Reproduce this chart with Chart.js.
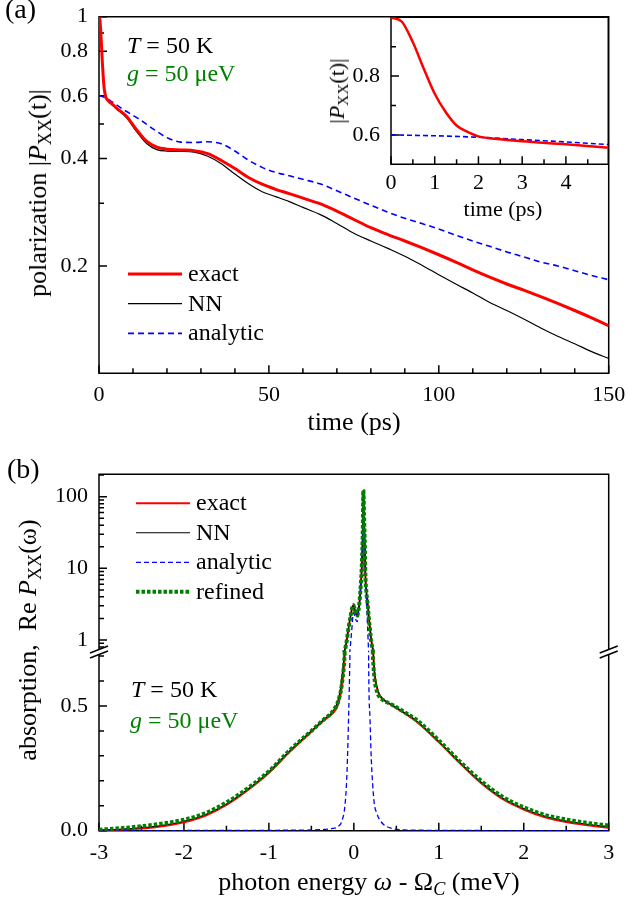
<!DOCTYPE html>
<html>
<head>
<meta charset="utf-8">
<script src="https://cdn.jsdelivr.net/npm/chart.js@4.4.1/dist/chart.umd.min.js"></script>
<style>
  html, body { margin: 0; padding: 0; background: #fff; }
  body { position: relative; width: 628px; height: 906px; overflow: hidden; font-family: "Liberation Serif", "Times New Roman", Times, Tinos, "DejaVu Serif", serif; }
  canvas { position: absolute; }
  .t { position: absolute; white-space: nowrap; line-height: 1; color: #000; }
  .cx { transform: translateX(-50%); }
  .rot { transform: translate(-50%, -50%) rotate(-90deg); }
  .g { color: #008000; }
  sub { font-size: 70%; vertical-align: -0.28em; line-height: 0; }
</style>
</head>
<body>
<canvas id="ca" width="628" height="440" style="left:0;top:0"></canvas>
<canvas id="ci" width="328" height="230" style="left:300px;top:0"></canvas>
<canvas id="cb1" width="628" height="212" style="left:0;top:440px"></canvas>
<canvas id="cb2" width="628" height="276" style="left:0;top:630px"></canvas>

<div class="t" style="left:5px;top:-5px;font-size:28px">(a)</div>
<div class="t" style="left:127px;top:33px;font-size:24px"><i>T</i> = 50 K</div>
<div class="t g" style="left:127px;top:61px;font-size:24px"><i>g</i> = 50 μeV</div>
<div class="t rot" style="left:38px;top:193px;font-size:26px">polarization |<i>P</i><sub>XX</sub>(t)|</div>
<div class="t cx" style="left:354px;top:409px;font-size:26px">time (ps)</div>
<div class="t rot" style="left:337px;top:91px;font-size:22px">|<i>P</i><sub>XX</sub>(t)|</div>
<div class="t cx" style="left:503px;top:198px;font-size:22px">time (ps)</div>

<div class="t" style="left:7px;top:455px;font-size:28px">(b)</div>
<div class="t" style="left:131px;top:677px;font-size:24px"><i>T</i> = 50 K</div>
<div class="t g" style="left:130px;top:708px;font-size:24px"><i>g</i> = 50 μeV</div>
<div class="t rot" style="left:28px;top:640px;font-size:26px">absorption,&nbsp; Re <i>P</i><sub>XX</sub>(ω)</div>
<div class="t cx" style="left:369px;top:869px;font-size:26px">photon energy <i>ω</i> - Ω<sub><i>C</i></sub> (meV)</div>

<script>
// (a) polarization vs time
const timeNum = [0, 0.25, 0.5, 0.75, 1, 1.25, 1.5, 1.75, 2, 2.5, 3, 4, 5, 8, 11, 14, 17, 20, 24, 28, 32, 36, 40, 44, 48, 52, 56, 60, 65, 70, 75, 80, 85, 90, 95, 100, 105, 110, 115, 120, 125, 130, 135, 140, 145, 150];
const exactPol = [1.0, 0.985, 0.915, 0.825, 0.74, 0.678, 0.632, 0.61, 0.595, 0.585, 0.578, 0.568, 0.556, 0.527, 0.483, 0.448, 0.431, 0.425, 0.423, 0.421, 0.413, 0.395, 0.375, 0.354, 0.339, 0.328, 0.319, 0.31, 0.299, 0.285, 0.27, 0.256, 0.245, 0.235, 0.225, 0.215, 0.205, 0.195, 0.186, 0.178, 0.171, 0.164, 0.157, 0.15, 0.143, 0.136];
const nnPol = [1.0, 0.985, 0.915, 0.825, 0.74, 0.678, 0.63, 0.607, 0.592, 0.582, 0.575, 0.565, 0.553, 0.522, 0.477, 0.441, 0.424, 0.42, 0.419, 0.417, 0.406, 0.387, 0.362, 0.34, 0.323, 0.313, 0.303, 0.292, 0.279, 0.263, 0.247, 0.235, 0.224, 0.213, 0.201, 0.189, 0.178, 0.168, 0.158, 0.15, 0.142, 0.134, 0.127, 0.121, 0.115, 0.11];
const timeAna = [0, 1, 2, 3, 4, 5, 8, 12, 16, 20, 24, 28, 32, 36, 40, 44, 48, 52, 56, 60, 65, 70, 75, 80, 85, 90, 95, 100, 105, 110, 115, 120, 125, 130, 135, 140, 145, 150];
const analyticPol = [0.6, 0.597, 0.592, 0.584, 0.576, 0.567, 0.543, 0.515, 0.484, 0.458, 0.445, 0.444, 0.446, 0.44, 0.42, 0.396, 0.378, 0.366, 0.358, 0.35, 0.34, 0.325, 0.31, 0.296, 0.283, 0.272, 0.263, 0.254, 0.244, 0.235, 0.227, 0.219, 0.212, 0.205, 0.2, 0.194, 0.188, 0.183];
const timeTicks = [0, 10, 20, 30, 40, 50, 60, 70, 80, 90, 100, 110, 120, 130, 140, 150];
const timeLabels = [0, 50, 100, 150];
const polTicks = [0.2, 0.3, 0.4, 0.5, 0.6, 0.8, 0.9, 1];
const polLabels = [0.2, 0.4, 0.6, 0.8, 1];
// inset
const insetTimeTicks = [0, 0.5, 1, 1.5, 2, 2.5, 3, 3.5, 4, 4.5];
const insetTimeLabels = [0, 1, 2, 3, 4];
const insetPolTicks = [0.6, 0.7, 0.8, 0.9];
const insetPolLabels = [0.6, 0.8];

// (b) absorption spectrum
const omega = [-3, -2.75, -2.5, -2.25, -2, -1.75, -1.5, -1.25, -1, -0.75, -0.5, -0.35, -0.25, -0.18, -0.14, -0.105, -0.085, -0.066, -0.04, -0.02, -0.007, 0.01, 0.025, 0.04, 0.055, 0.07, 0.08, 0.09, 0.1, 0.105, 0.112, 0.12, 0.128, 0.136, 0.148, 0.162, 0.175, 0.19, 0.205, 0.221, 0.24, 0.27, 0.3, 0.35, 0.45, 0.6, 0.75, 1, 1.25, 1.5, 1.75, 2, 2.25, 2.5, 2.75, 3];
const exactAbs = [0.001, 0.004, 0.009, 0.018, 0.034, 0.06, 0.103, 0.162, 0.232, 0.318, 0.397, 0.444, 0.47, 0.51, 0.58, 0.72, 0.95, 1.38, 2.1, 2.8, 3.08, 2.7, 2.3, 2.2, 2.6, 3.8, 5.5, 8.5, 18, 32, 124, 55, 24, 8, 4.7, 3.3, 2.2, 1.45, 1.0, 0.77, 0.64, 0.575, 0.545, 0.525, 0.502, 0.47, 0.434, 0.355, 0.27, 0.19, 0.127, 0.085, 0.054, 0.035, 0.022, 0.012];
const nnAbs = [0.002, 0.006, 0.012, 0.022, 0.038, 0.064, 0.107, 0.166, 0.236, 0.322, 0.4, 0.447, 0.478, 0.53, 0.62, 0.76, 0.97, 1.4, 2.1, 2.8, 3.05, 2.7, 2.3, 2.2, 2.6, 3.8, 5.5, 8.5, 18, 32, 122, 55, 24, 8, 4.7, 3.3, 2.2, 1.45, 1.0, 0.78, 0.65, 0.58, 0.547, 0.526, 0.504, 0.472, 0.437, 0.358, 0.273, 0.194, 0.131, 0.089, 0.058, 0.039, 0.026, 0.016];
const analyticAbs = [0.0003, 0.0004, 0.0005, 0.0006, 0.0007, 0.0008, 0.001, 0.0012, 0.0015, 0.002, 0.003, 0.005, 0.009, 0.018, 0.04, 0.1, 0.2, 0.4, 0.85, 1.6, 2.4, 2.2, 1.9, 1.8, 2.3, 3.4, 5.2, 8.3, 18, 32, 124, 55, 24, 7.5, 3.5, 1.5, 0.65, 0.45, 0.29, 0.19, 0.11, 0.07, 0.046, 0.025, 0.009, 0.003, 0.002, 0.0012, 0.0009, 0.0007, 0.0006, 0.0005, 0.0004, 0.0003, 0.0003, 0.0002];
const refinedAbs = [0.004, 0.01, 0.018, 0.029, 0.044, 0.07, 0.113, 0.17, 0.238, 0.324, 0.4, 0.447, 0.478, 0.524, 0.59, 0.73, 0.95, 1.38, 2.1, 2.8, 3.08, 2.7, 2.3, 2.2, 2.6, 3.8, 5.5, 8.5, 18, 32, 124, 55, 24, 8, 4.6, 3.2, 2.1, 1.38, 0.95, 0.73, 0.62, 0.56, 0.537, 0.522, 0.505, 0.474, 0.441, 0.362, 0.277, 0.199, 0.136, 0.094, 0.063, 0.045, 0.031, 0.021];
const omegaTicks = [-3, -2.5, -2, -1.5, -1, -0.5, 0, 0.5, 1, 1.5, 2, 2.5, 3];
const omegaLabels = [-3, -2, -1, 0, 1, 2, 3];
const absLogTicks = [0.8, 0.9, 1, 2, 3, 4, 5, 6, 7, 8, 9, 10, 20, 30, 40, 50, 60, 70, 80, 90, 100, 200];
const absLogLabels = [1, 10, 100];
const absLinTicks = [0, 0.1, 0.2, 0.3, 0.4, 0.5, 0.6, 0.7];
const absLinLabels = [0, 0.5];

const RED = '#ff0000', BLUE = '#0000ff', GREEN = '#008000';
const SERIF = '"Liberation Serif", "Times New Roman", Times, Tinos, "DejaVu Serif", serif';
Chart.defaults.font.family = SERIF;
Chart.defaults.color = '#000';
const tickFont = { size: 22 };

// box, inward ticks and axis break
const framePlugin = {
  id: 'frame',
  beforeDatasetsDraw(chart, args, o) {
    if (!o.sides) return;
    const { ctx, chartArea: a, scales } = chart;
    ctx.save();
    ctx.strokeStyle = '#000';
    ctx.lineWidth = 1.5;
    ctx.lineCap = 'square';
    ctx.beginPath();
    if (o.sides.includes('t')) { ctx.moveTo(a.left, a.top); ctx.lineTo(a.right, a.top); }
    if (o.sides.includes('b')) { ctx.moveTo(a.left, a.bottom); ctx.lineTo(a.right, a.bottom); }
    if (o.sides.includes('l')) { ctx.moveTo(a.left, a.top); ctx.lineTo(a.left, a.bottom); }
    if (o.sides.includes('r')) { ctx.moveTo(a.right, a.top); ctx.lineTo(a.right, a.bottom); }
    ctx.stroke();
    ctx.lineCap = 'butt';
    ctx.beginPath();
    if (scales.x.options.display) {
      scales.x.ticks.forEach(t => {
        const p = scales.x.getPixelForValue(t.value);
        ctx.moveTo(p, a.bottom); ctx.lineTo(p, a.bottom - (t.label ? o.major : o.minor));
      });
    }
    scales.y.ticks.forEach(t => {
      const p = scales.y.getPixelForValue(t.value);
      ctx.moveTo(a.left, p); ctx.lineTo(a.left + (t.label ? o.major : o.minor), p);
    });
    ctx.stroke();
    ctx.restore();
  },
  afterDatasetsDraw(chart, args, o) {
    if (!o.brk) return;
    const { ctx, chartArea: a } = chart;
    ctx.save();
    [a.left, a.right].forEach(x => {
      const y = a.top;
      ctx.fillStyle = '#fff';
      ctx.beginPath();
      ctx.moveTo(x - 9, y + 1); ctx.lineTo(x + 9, y - 6); ctx.lineTo(x + 9, y - 1); ctx.lineTo(x - 9, y + 6);
      ctx.closePath(); ctx.fill();
      ctx.strokeStyle = '#000'; ctx.lineWidth = 1.5;
      ctx.beginPath();
      ctx.moveTo(x - 9, y + 1); ctx.lineTo(x + 9, y - 6);
      ctx.moveTo(x - 9, y + 6); ctx.lineTo(x + 9, y - 1);
      ctx.stroke();
    });
    ctx.restore();
  }
};

// legend drawn inside the plot from the dataset styles
const legendPlugin = {
  id: 'leg',
  afterDatasetsDraw(chart, args, o) {
    if (!o.order) return;
    const ctx = chart.ctx;
    ctx.save();
    o.order.forEach((name, k) => {
      const ds = chart.data.datasets.find(d => d.label === name);
      const y = o.y + k * o.dy;
      ctx.strokeStyle = ds.borderColor;
      ctx.lineWidth = ds.borderWidth;
      ctx.setLineDash(ds.borderDash);
      ctx.beginPath(); ctx.moveTo(o.x, y); ctx.lineTo(o.x + o.len, y); ctx.stroke();
      ctx.setLineDash([]);
      ctx.fillStyle = '#000';
      ctx.font = '24px ' + SERIF;
      ctx.textBaseline = 'alphabetic';
      ctx.fillText(ds.label, o.x + o.len + o.gap, y + 7);
    });
    ctx.restore();
  }
};
Chart.register(framePlugin, legendPlugin);

function line(label, xs, ys, color, width, dash) {
  return {
    label, data: xs.map((x, i) => ({ x, y: ys[i] })),
    borderColor: color, borderWidth: width, borderDash: dash || [],
    pointRadius: 0, fill: false, cubicInterpolationMode: 'monotone', borderCapStyle: 'butt'
  };
}
const setTicks = vals => s => { s.ticks = vals.map(v => ({ value: v })); };
const fixW = w => s => { s.width = w; s.paddingTop = 0; s.paddingBottom = 0; };
const fixH = h => s => { s.height = h; s.paddingLeft = 0; s.paddingRight = 0; };
const lab = (list, fmt) => v => list.includes(v) ? (fmt ? fmt(v) : String(v)) : '';

function xAxis(min, max, ticks, labels, h, pad, display = true, fmt) {
  return {
    type: 'linear', min, max, display,
    grid: { display: false, drawTicks: false }, border: { display: false },
    afterBuildTicks: setTicks(ticks), afterFit: fixH(h),
    ticks: { font: tickFont, padding: pad, autoSkip: false, maxRotation: 0, callback: lab(labels, fmt) }
  };
}
function yAxis(type, min, max, ticks, labels, w, fmt) {
  return {
    type, min, max,
    grid: { display: false, drawTicks: false }, border: { display: false },
    afterBuildTicks: setTicks(ticks), afterFit: fixW(w),
    ticks: { font: tickFont, padding: 11, autoSkip: false, callback: lab(labels, fmt) }
  };
}
function base(padding, plugins, scales) {
  return {
    responsive: false, animation: false, devicePixelRatio: 1,
    layout: { padding },
    plugins: Object.assign({ legend: { display: false }, tooltip: { enabled: false } }, plugins),
    scales
  };
}

// (a) main
new Chart(document.getElementById('ca'), {
  type: 'line',
  data: { datasets: [
    line('exact', timeNum, exactPol, RED, 3),
    line('analytic', timeAna, analyticPol, BLUE, 1.6, [6, 4]),
    line('NN', timeNum, nnPol, '#000', 1.2)
  ] },
  options: base({ left: 0, top: 16.7, right: 19.3, bottom: 0 },
    { frame: { sides: 'tlrb', major: 8, minor: 5 },
      leg: { order: ['exact', 'NN', 'analytic'], x: 128, y: 274, dy: 29.7, len: 54, gap: 6 } },
    { x: xAxis(0, 150, timeTicks, timeLabels, 440 - 373.3, 9),
      y: yAxis('logarithmic', 0.1, 1, polTicks, polLabels, 99) })
});

// (a) inset
new Chart(document.getElementById('ci'), {
  type: 'line',
  data: { datasets: [
    line('exact', timeNum, exactPol, RED, 2.5),
    line('analytic', timeAna, analyticPol, BLUE, 1.6, [5, 3])
  ] },
  options: base({ left: 0, top: 17.3, right: 19.7, bottom: 0 },
    { frame: { sides: 'tlrb', major: 8, minor: 5 } },
    { x: xAxis(0, 4.97, insetTimeTicks, insetTimeLabels, 230 - 164.3, 6),
      y: yAxis('linear', 0.5, 1, insetPolTicks, insetPolLabels, 91) })
});

// (b) log part above the break
const absSets = () => [
  line('refined', omega, refinedAbs, GREEN, 4, [3.5, 2]),
  line('analytic', omega, analyticAbs, BLUE, 1.3, [5, 3]),
  line('NN', omega, nnAbs, '#000', 1.1),
  line('exact', omega, exactAbs, RED, 2)
];
new Chart(document.getElementById('cb1'), {
  type: 'line',
  data: { datasets: absSets() },
  options: base({ left: 0, top: 34.3, right: 19.3, bottom: 0 },
    { frame: { sides: 'tlr', major: 8, minor: 5 },
      leg: { order: ['exact', 'NN', 'analytic', 'refined'], x: 136, y: 63.3, dy: 29.5, len: 54, gap: 6 } },
    { x: xAxis(-3, 3, omegaTicks, omegaLabels, 0, 0, false),
      y: yAxis('logarithmic', 0.68, 205.3, absLogTicks, absLogLabels, 99) })
});

// (b) linear part below the break
new Chart(document.getElementById('cb2'), {
  type: 'line',
  data: { datasets: absSets() },
  options: base({ left: 0, top: 22, right: 19.3, bottom: 0 },
    { frame: { sides: 'lrb', major: 8, minor: 5, brk: true } },
    { x: xAxis(-3, 3, omegaTicks, omegaLabels, 276 - 200.7, 9.5),
      y: yAxis('linear', 0, 0.7162, absLinTicks, absLinLabels, 99, v => v.toFixed(1)) })
});
</script>
</body>
</html>
